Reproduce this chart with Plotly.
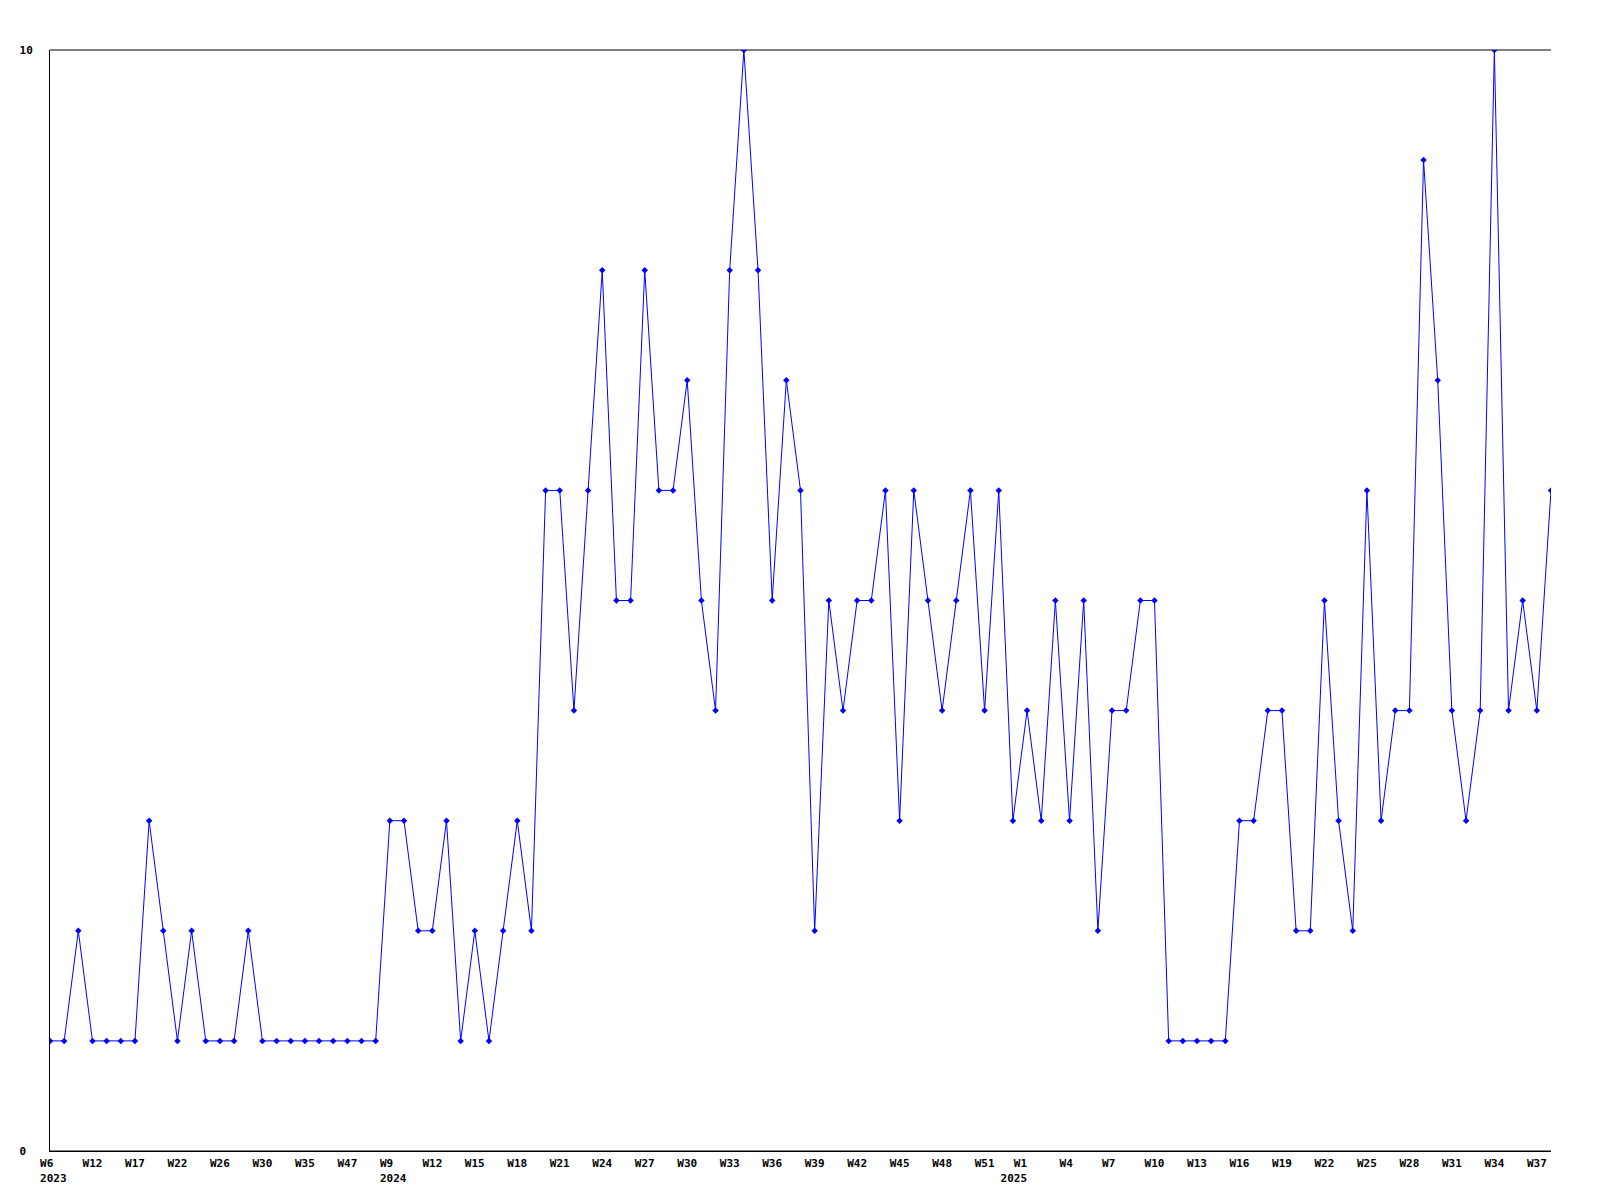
import plotly.graph_objects as go

# Weekly values, in order (107 weeks)
values = [
    1, 1, 2, 1, 1, 1, 1, 3, 2, 1,
    2, 1, 1, 1, 2, 1, 1, 1, 1, 1,
    1, 1, 1, 1, 3, 3, 2, 2, 3, 1,
    2, 1, 2, 3, 2, 6, 6, 4, 6, 8,
    5, 5, 8, 6, 6, 7, 5, 4, 8, 10,
    8, 5, 7, 6, 2, 5, 4, 5, 5, 6,
    3, 6, 5, 4, 5, 6, 4, 6, 3, 4,
    3, 5, 3, 5, 2, 4, 4, 5, 5, 1,
    1, 1, 1, 1, 3, 3, 4, 4, 2, 2,
    5, 3, 2, 6, 3, 4, 4, 9, 7, 4,
    3, 4, 10, 4, 5, 4, 6,
]

# Tick labels, one every third week (week, year shown at year start)
tick_weeks = [
    "W6", "W12", "W17", "W22", "W26", "W30", "W35", "W47",
    "W9", "W12", "W15", "W18", "W21", "W24", "W27", "W30",
    "W33", "W36", "W39", "W42", "W45", "W48", "W51",
    "W1", "W4", "W7", "W10", "W13", "W16", "W19", "W22",
    "W25", "W28", "W31", "W34", "W37",
]
tick_years = [
    "2023", "", "", "", "", "", "", "",
    "2024", "", "", "", "", "", "", "",
    "", "", "", "", "", "", "",
    "2025", "", "", "", "", "", "", "",
    "", "", "", "", "",
]
tick_step = 3

y_tick_vals = [0, 10]
y_tick_text = ["0\u00a0", "10"]

NBSP = "\u00a0"


def make_label(week, year, first_year):
    if year == "":
        return week + NBSP * max(0, 3 - len(week))
    if first_year:
        # left-aligned block under the tick
        return NBSP + week + NBSP * (4 - len(week)) + "<br>" + NBSP + year
    # later-placed year block, right-aligned to the tick
    return NBSP * (4 - len(week)) + week + NBSP * 4 + "<br>" + year + NBSP * 4


x = list(range(len(values)))
tick_vals = [i * tick_step for i in range(len(tick_weeks))]
year_positions = [i for i, y in enumerate(tick_years) if y]
tick_text = []
for i, (w, yv) in enumerate(zip(tick_weeks, tick_years)):
    tick_text.append(make_label(w, yv, yv != "" and i != year_positions[-1]))

font = dict(family="DejaVu Sans Mono", size=11, color="black", weight="bold")

fig = go.Figure(
    go.Scatter(
        x=x,
        y=values,
        mode="lines+markers",
        line=dict(color="#0000ff", width=1),
        marker=dict(symbol="diamond", size=5, color="#0000ff"),
        hoverinfo="x+y",
    )
)

fig.update_layout(
    width=1592,
    height=1192,
    margin=dict(l=42, r=49, t=42, b=49),
    paper_bgcolor="white",
    plot_bgcolor="white",
    showlegend=False,
    font=font,
    shapes=[
        dict(type="line", xref="paper", yref="paper", x0=0, x1=1, y0=1, y1=1,
             line=dict(color="black", width=1), layer="below"),
        dict(type="line", xref="paper", yref="paper", x0=0, x1=1, y0=0, y1=0,
             line=dict(color="black", width=1), layer="below"),
    ],
)

fig.update_xaxes(
    range=[0, len(values) - 1],
    tickmode="array",
    tickvals=tick_vals,
    ticktext=tick_text,
    tickangle=0,
    showgrid=False,
    zeroline=False,
    showline=True,
    linecolor="black",
    linewidth=1,
    ticks="outside",
    ticklen=2,
    tickcolor="rgba(0,0,0,0)",
    tickfont=font,
)

fig.update_yaxes(
    range=[0, 10],
    tickmode="array",
    tickvals=y_tick_vals,
    ticktext=y_tick_text,
    showgrid=False,
    zeroline=False,
    showline=True,
    linecolor="black",
    linewidth=1,
    ticks="outside",
    ticklen=14,
    tickcolor="rgba(0,0,0,0)",
    tickfont=font,
)

fig.write_html("out.html")
